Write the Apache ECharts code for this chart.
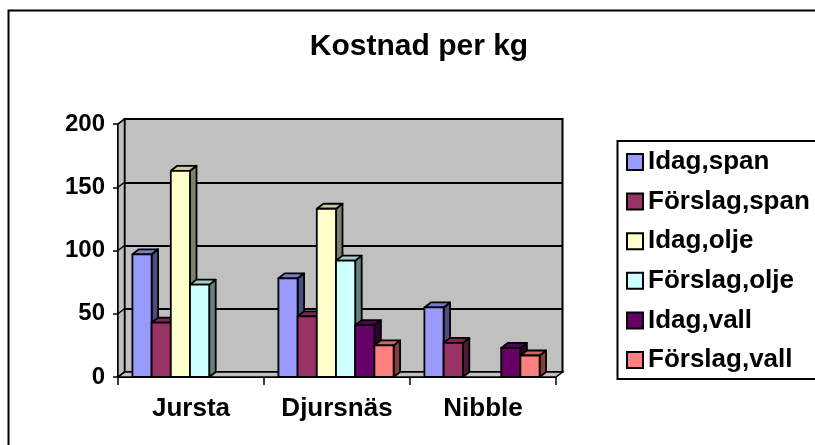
<!DOCTYPE html>
<html>
<head>
<meta charset="utf-8">
<script src="https://cdn.jsdelivr.net/npm/echarts@6/dist/echarts.min.js"></script>
<style>
    html, body { margin: 0; padding: 0; background: #fff; }
    #chart { width: 815px; height: 445px; }
</style>
</head>
<body>
<div id="chart"></div>
<script>
// data
const categories = ['Jursta', 'Djursnäs', 'Nibble'];
const seriesNames = ['Idag,span', 'Förslag,span', 'Idag,olje', 'Förslag,olje', 'Idag,vall', 'Förslag,vall'];
const idagSpan = [97, 78, 55];
const forslagSpan = [43, 48, 27];
const idagOlje = [163, 133, null];
const forslagOlje = [73, 92, null];
const idagVall = [null, 41, 23];
const forslagVall = [null, 25, 17];
const yTicks = [0, 50, 100, 150, 200];

const seriesValues = [idagSpan, forslagSpan, idagOlje, forslagOlje, idagVall, forslagVall];
const colours = ['#9999ff', '#993366', '#ffffcc', '#ccffff', '#660066', '#ff8080'];
const FONT = '"Liberation Sans", Arial, sans-serif';
// 3d depth offset
const DX = 6.5;
const DY = -5;

function shade(hex, f) {
    const n = parseInt(hex.slice(1), 16);
    const r = Math.round(((n >> 16) & 255) * f);
    const g = Math.round(((n >> 8) & 255) * f);
    const b = Math.round((n & 255) * f);
    return `rgb(${r},${g},${b})`;
}

function barItem(sIdx) {
    return function (params, api) {
        const cat = api.value(0);
        const val = api.value(1);
        const top = api.coord([cat, val]);
        const base = api.coord([cat, 0]);
        const catW = api.size([1, 0])[0];
        const w = catW * 0.1315;
        const x0 = top[0] + (sIdx - 3) * w - 1;
        const c = colours[sIdx];
        const edge = { stroke: '#000', lineWidth: 1.8, lineJoin: 'round' };
        return {
            type: 'group',
            children: [
                {
                    type: 'polygon',
                    shape: { points: [[x0 + w, top[1]], [x0 + w + DX, top[1] + DY], [x0 + w + DX, base[1] + DY], [x0 + w, base[1]]] },
                    style: Object.assign({ fill: shade(c, 0.5) }, edge)
                },
                {
                    type: 'polygon',
                    shape: { points: [[x0, top[1]], [x0 + DX, top[1] + DY], [x0 + w + DX, top[1] + DY], [x0 + w, top[1]]] },
                    style: Object.assign({ fill: shade(c, 0.8) }, edge)
                },
                {
                    type: 'rect',
                    shape: { x: x0, y: top[1], width: w, height: base[1] - top[1] },
                    style: Object.assign({ fill: c }, edge)
                }
            ]
        };
    };
}

//side wall, floor and the little tick diagonals
function wallItem(params, api) {
    const cs = params.coordSys;
    const y = api.coord([0, api.value(1)])[1];
    const edge = { stroke: '#000', lineWidth: 1.5 };
    const children = [{
        type: 'line',
        shape: { x1: cs.x, y1: y, x2: cs.x + DX, y2: y + DY },
        style: edge
    }];
    if (params.dataIndex === 0) {
        const bottom = cs.y + cs.height;
        children.unshift(
            {
                type: 'polygon',
                shape: { points: [[cs.x, cs.y], [cs.x + DX, cs.y + DY], [cs.x + DX, bottom + DY], [cs.x, bottom]] },
                style: Object.assign({ fill: '#c0c0c0' }, edge)
            },
            {
                type: 'polygon',
                shape: { points: [[cs.x, bottom], [cs.x + DX, bottom + DY], [cs.x + cs.width + DX, bottom + DY], [cs.x + cs.width, bottom]] },
                style: Object.assign({ fill: '#c0c0c0' }, edge)
            }
        );
    }
    return { type: 'group', children: children };
}

const series = [{
    type: 'custom',
    name: 'walls',
    xAxisIndex: 1,
    yAxisIndex: 1,
    renderItem: wallItem,
    data: yTicks.map(v => [0, v]),
    silent: true,
    z: 2
}];

seriesValues.forEach((vals, i) => {
    const data = [];
    vals.forEach((v, c) => { if (v != null) data.push([c, v]); });
    series.push({
        type: 'custom',
        name: seriesNames[i],
        xAxisIndex: 1,
        yAxisIndex: 1,
        itemStyle: { color: colours[i] },
        renderItem: barItem(i),
        data: data,
        z: 3
    });
});

const chart = echarts.init(document.getElementById('chart'));
const option = {
    backgroundColor: '#fff',
    animation: false,
    title: {
        text: 'Kostnad per kg',
        left: 414,
        top: 27,
        textAlign: 'center',
        textStyle: { fontFamily: FONT, fontSize: 30, fontWeight: 'bold', color: '#000' }
    },
    legend: {
        orient: 'vertical',
        left: 621,
        top: 144,
        icon: 'rect',
        itemWidth: 16,
        itemHeight: 16,
        itemGap: 13.6,
        data: seriesNames,
        itemStyle: { borderColor: '#000', borderWidth: 2 },
        textStyle: { fontFamily: FONT, fontSize: 26, fontWeight: 'bold', color: '#000', lineHeight: 26 }
    },
    graphic: [
        {
            type: 'rect',
            shape: { x: 8.5, y: 10.5, width: 900, height: 600 },
            style: { fill: 'none', stroke: '#000', lineWidth: 2 }
        },
        {
            type: 'rect',
            shape: { x: 617.5, y: 141, width: 300, height: 238 },
            style: { fill: 'none', stroke: '#000', lineWidth: 2 }
        }
    ],
    grid: [
        {
            left: 124.5, top: 119, width: 438, height: 253,
            show: true, backgroundColor: '#c0c0c0', borderColor: '#000', borderWidth: 2,
            outerBoundsMode: 'none'
        },
        {
            left: 118, top: 124, width: 438, height: 253,
            outerBoundsMode: 'none'
        }
    ],
    xAxis: [
        {
            gridIndex: 0,
            type: 'category',
            data: categories,
            axisLine: { show: false },
            axisTick: { show: false },
            axisLabel: { show: false },
            splitLine: { show: false }
        },
        {
            gridIndex: 1,
            type: 'category',
            data: categories,
            axisLine: { show: true, lineStyle: { color: '#000', width: 2 } },
            axisTick: { show: true, length: 8, lineStyle: { color: '#000', width: 1.5 } },
            axisLabel: { fontFamily: FONT, fontSize: 26, fontWeight: 'bold', color: '#000', margin: 19 },
            splitLine: { show: false }
        }
    ],
    yAxis: [
        {
            gridIndex: 0,
            type: 'value',
            min: 0,
            max: 200,
            interval: 50,
            axisLine: { show: false },
            axisTick: { show: false },
            axisLabel: { show: false },
            splitLine: { show: true, lineStyle: { color: '#000', width: 2 } }
        },
        {
            gridIndex: 1,
            type: 'value',
            min: 0,
            max: 200,
            interval: 50,
            axisLine: { show: true, lineStyle: { color: '#000', width: 2 } },
            axisTick: { show: true, length: 5, lineStyle: { color: '#000', width: 1.5 } },
            axisLabel: { fontFamily: FONT, fontSize: 24, fontWeight: 'bold', color: '#000', margin: 13 },
            splitLine: { show: false }
        }
    ],
    series: series
};
chart.setOption(option);
</script>
</body>
</html>
